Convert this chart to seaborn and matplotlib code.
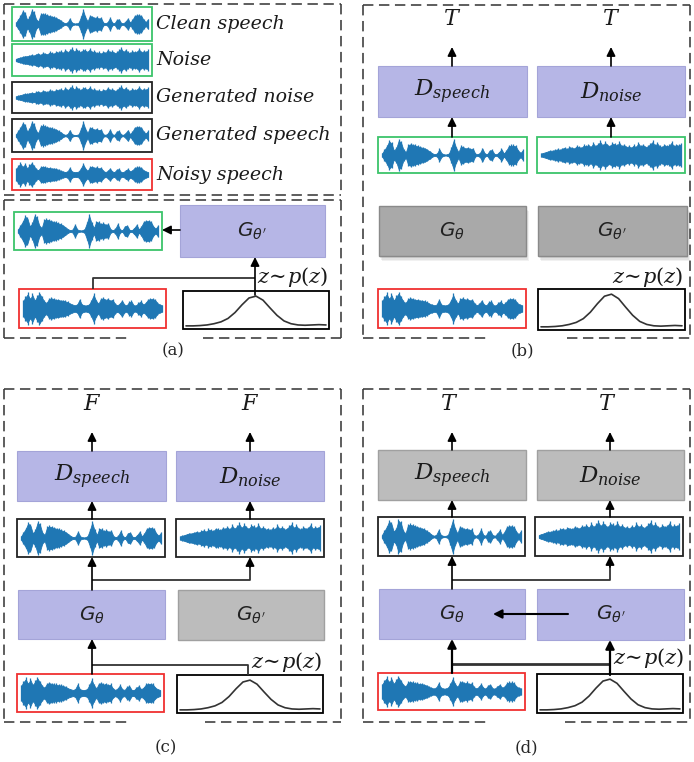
import numpy as np
import matplotlib
matplotlib.use("Agg")
import matplotlib.pyplot as plt
from matplotlib.patches import Rectangle
import seaborn as sns

sns.set_style("white")
plt.rcParams['font.family'] = ['DejaVu Serif']

# ---------------- data ----------------
legend_labels = ["Clean speech", "Noise", "Generated noise", "Generated speech", "Noisy speech"]
panel_labels = ["(a)", "(b)", "(c)", "(d)"]
verdict_b = ["T", "T"]
verdict_c = ["F", "F"]
verdict_d = ["T", "T"]

# waveform envelopes (relative amplitude)
clean_env = [0.1, 0.35, 0.6, 0.95, 0.8, 0.3, 0.5, 1.0, 0.85, 0.35, 0.2, 0.7, 0.75, 0.7, 0.65,
             0.6, 0.55, 0.5, 0.45, 0.35, 0.25, 0.12, 0.05, 0.1, 0.4, 0.1, 0.04, 0.04, 0.1, 0.5,
             1.0, 0.5, 0.2, 0.6, 0.55, 0.45, 0.5, 0.4, 0.45, 0.1, 0.05, 0.15, 0.45, 0.1, 0.05,
             0.3, 0.35, 0.08, 0.05, 0.2, 0.4, 0.1, 0.3, 0.6, 0.65, 0.65, 0.6, 0.3, 0.15, 0.35]
noise_env = [0.1, 0.15, 0.2, 0.25, 0.3, 0.3, 0.35, 0.4, 0.35, 0.45, 0.5, 0.4, 0.55, 0.5, 0.45,
             0.6, 0.55, 0.5, 0.65, 0.6, 0.7, 0.55, 0.8, 0.6, 0.75, 0.9, 0.65, 0.85, 0.7, 0.6,
             0.8, 0.75, 0.65, 0.85, 0.6, 0.7, 0.55, 0.6, 0.5, 0.65, 0.55, 0.8, 0.6, 0.7, 0.55,
             0.6, 0.75, 0.9, 0.65, 0.8, 0.6, 0.55, 0.7, 0.6, 0.65, 0.85, 0.6, 0.7, 0.65, 0.75]
noisy_env = [0.45, 0.7, 0.9, 0.6, 0.85, 0.5, 0.75, 0.95, 0.7, 0.45, 0.35, 0.6, 0.65, 0.6, 0.55,
             0.55, 0.5, 0.5, 0.45, 0.4, 0.3, 0.25, 0.2, 0.25, 0.55, 0.25, 0.2, 0.2, 0.25, 0.5,
             0.85, 0.5, 0.3, 0.6, 0.65, 0.55, 0.6, 0.5, 0.55, 0.3, 0.2, 0.3, 0.5, 0.25, 0.2,
             0.4, 0.45, 0.2, 0.2, 0.35, 0.45, 0.25, 0.35, 0.55, 0.6, 0.6, 0.55, 0.35, 0.25, 0.2]
# prior density curve z ~ p(z)
gauss_pdf = [0.02, 0.02, 0.03, 0.05, 0.09, 0.15, 0.26, 0.45, 0.7, 0.92, 0.98, 0.85, 0.6,
             0.36, 0.18, 0.09, 0.05, 0.04, 0.05, 0.06, 0.05]

# ---------------- styles ----------------
BLUE = "#1f77b4"
GREEN = "#3cc46a"
RED = "#f03030"
LAV = "#b6b6e6"
LAV_E = "#a4a4d8"
GRAY_B = "#a9a9a9"
GRAY_C = "#bcbcbc"
DASH = "#3a3a3a"
LINE = "#333333"

fig = plt.figure(figsize=(6.94, 7.62), dpi=100)
ax = fig.add_axes([0, 0, 1, 1])
ax.axis("off")


def rect(x0, y0, x1, y1, fc="none", ec="black", lw=1.2, z=2):
    ax.add_patch(Rectangle((x0, y0), x1 - x0, y1 - y0, facecolor=fc, edgecolor=ec, lw=lw, zorder=z))


def wave(env, x0, y0, x1, y1, ec):
    rect(x0, y0, x1, y1, fc="white", ec=ec, lw=1.3, z=2)
    xs = np.linspace(x0 + 4, x1 - 4, len(env))
    e = np.array(env)
    yc = (y0 + y1) / 2
    half = (y1 - y0) / 2 - 2.5
    ax.fill_between(xs, yc - e * half * 0.92, yc + e * half * 0.92, color=BLUE, lw=0.6, zorder=3)
    ax.vlines(xs, yc - e * half * 1.05, yc + e * half * 1.05, color=BLUE, lw=0.9, zorder=3)


def gauss(x0, y0, x1, y1):
    rect(x0, y0, x1, y1, fc="white", ec="black", lw=1.3, z=2)
    xs = np.linspace(x0 + 3, x1 - 3, len(gauss_pdf))
    ys = y1 - 2.5 - np.array(gauss_pdf) * (y1 - y0 - 7)
    sns.lineplot(x=xs, y=ys, ax=ax, color=LINE, lw=1.2, sort=False, legend=False, zorder=4)


def dashed_box(x0, y0, x1, y1, gap=None):
    kw = dict(color=DASH, lw=1.15, ls=(0, (6.5, 3.5)), zorder=1)
    ax.plot([x0, x1], [y0, y0], **kw)
    ax.plot([x0, x0], [y0, y1], **kw)
    ax.plot([x1, x1], [y0, y1], **kw)
    if gap is None:
        ax.plot([x0, x1], [y1, y1], **kw)
    else:
        ax.plot([x0, gap[0]], [y1, y1], **kw)
        ax.plot([gap[1], x1], [y1, y1], **kw)


def arrow(x0, y0, x1, y1, lw=1.2):
    ax.annotate("", xy=(x1, y1), xytext=(x0, y0),
                arrowprops=dict(arrowstyle="-|>", color="black", lw=lw,
                                mutation_scale=13, shrinkA=0, shrinkB=0), zorder=5)


def line(xs, ys, lw=1.3):
    ax.plot(xs, ys, color=LINE, lw=lw, zorder=4, solid_capstyle="butt")


def dlabel(x, y, s):
    ax.text(x, y, s, ha="center", va="center", fontsize=16.5, math_fontfamily="dejavuserif",
            color="#1a1a1a", zorder=6)


def glabel(x, y, s):
    ax.text(x, y, s, ha="center", va="center", fontsize=14.5, math_fontfamily="dejavusans",
            color="#222222", zorder=6)


def zlabel(x, y):
    ax.text(x, y, r"$z\!\sim\!p(z)$", ha="left", va="center", fontsize=15,
            math_fontfamily="dejavuserif", color="#1a1a1a", zorder=6)


def verdict(x, y, t):
    ax.text(x, y, f"${t}$", ha="center", va="center", fontsize=16,
            math_fontfamily="dejavuserif", color="#1a1a1a")


def gray_shadow_box(x0, y0, x1, y1):
    for i, a in enumerate([0.10, 0.12, 0.16]):
        off = 5 - i * 1.5
        ax.add_patch(Rectangle((x0 + off * 0.6, y0 + off), x1 - x0, y1 - y0,
                               facecolor="#777777", edgecolor="none", alpha=a, zorder=1.5))
    rect(x0, y0, x1, y1, fc=GRAY_B, ec="#8a8a8a", lw=1.0, z=2)


# ---------------- panel (a) ----------------
dashed_box(4, 4, 341, 195)
envs = [clean_env, noise_env, noise_env, clean_env, noisy_env]
cols = [GREEN, GREEN, "#222222", "#222222", RED]
rows = [(7, 41), (44, 76), (82, 113), (119, 152), (159, 190)]
for env, c, (ya, yb), lab in zip(envs, cols, rows, legend_labels):
    wave(env, 12, ya, 152, yb, c)
    ax.text(156, (ya + yb) / 2, lab, ha="left", va="center", fontsize=13.7, style="italic",
            color="#1a1a1a", zorder=6)

dashed_box(4, 200, 341, 338, gap=(130, 203))
wave(clean_env, 14, 212, 162, 250, GREEN)
rect(180, 205, 325, 257, fc=LAV, ec=LAV_E, lw=0.8)
glabel(252, 231, r"$G_{\theta'}$")
arrow(180, 230, 162, 230)
wave(noisy_env, 19, 289, 166, 328, RED)
gauss(183, 291, 329, 329)
line([93, 93, 255], [289, 278, 278])
arrow(255, 295, 255, 257)
zlabel(257, 277)
ax.text(173, 351, panel_labels[0], ha="center", va="center", fontsize=12)

# ---------------- panel (b) ----------------
dashed_box(363, 5, 690, 338, gap=(488, 567))
for xc, t in zip([452, 611], verdict_b):
    verdict(xc, 19, t)
    arrow(xc, 66, xc, 47)
    arrow(xc, 137, xc, 117)
rect(378, 66, 527, 117, fc=LAV, ec=LAV_E, lw=0.8)
rect(537, 66, 685, 117, fc=LAV, ec=LAV_E, lw=0.8)
dlabel(452, 92, r"$D_{speech}$")
dlabel(611, 92, r"$D_{noise}$")
wave(clean_env, 378, 137, 527, 173, GREEN)
wave(noise_env, 537, 137, 685, 173, GREEN)
gray_shadow_box(379, 206, 526, 256)
gray_shadow_box(538, 206, 687, 256)
glabel(452, 231, r"$G_{\theta}$")
glabel(612, 231, r"$G_{\theta'}$")
wave(noisy_env, 378, 289, 526, 328, RED)
gauss(538, 289, 685, 330)
zlabel(612, 277)
ax.text(522, 351, panel_labels[1], ha="center", va="center", fontsize=12)

# ---------------- panel (c) ----------------
dashed_box(4, 389, 341, 722, gap=(128, 205))
for xc, t in zip([92, 250], verdict_c):
    verdict(xc, 404, t)
    arrow(xc, 451, xc, 432)
    arrow(xc, 519, xc, 501)
rect(17, 451, 166, 501, fc=LAV, ec=LAV_E, lw=0.8)
rect(176, 451, 324, 501, fc=LAV, ec=LAV_E, lw=0.8)
dlabel(92, 477, r"$D_{speech}$")
dlabel(250, 477, r"$D_{noise}$")
wave(clean_env, 17, 519, 165, 557, "#222222")
wave(noise_env, 176, 519, 324, 557, "#222222")
arrow(92, 590, 92, 557)
line([92, 250, 250], [580, 580, 566])
arrow(250, 567, 250, 557)
rect(18, 590, 165, 639, fc=LAV, ec=LAV_E, lw=0.8)
rect(178, 590, 324, 640, fc=GRAY_C, ec="#a0a0a0", lw=1.0)
glabel(92, 615, r"$G_{\theta}$")
glabel(251, 615, r"$G_{\theta'}$")
arrow(92, 674, 92, 639)
line([92, 248, 248], [665, 665, 675])
wave(noisy_env, 17, 674, 164, 712, RED)
gauss(177, 675, 323, 713)
zlabel(251, 662)
ax.text(166, 748, panel_labels[2], ha="center", va="center", fontsize=12)

# ---------------- panel (d) ----------------
dashed_box(363, 389, 690, 722, gap=(488, 565))
for xc, t in zip([452, 610], verdict_d):
    verdict(xc - 3, 404, t)
    arrow(xc, 450, xc, 432)
    arrow(xc, 517, xc, 500)
rect(378, 450, 526, 500, fc=GRAY_C, ec="#a0a0a0", lw=1.0)
rect(537, 450, 684, 500, fc=GRAY_C, ec="#a0a0a0", lw=1.0)
dlabel(452, 476, r"$D_{speech}$")
dlabel(610, 476, r"$D_{noise}$")
wave(clean_env, 378, 517, 525, 556, "#222222")
wave(noise_env, 535, 517, 683, 556, "#222222")
arrow(452, 589, 452, 556)
line([452, 610, 610], [580, 580, 566])
arrow(610, 567, 610, 556)
rect(379, 589, 525, 639, fc=LAV, ec=LAV_E, lw=0.8)
rect(537, 589, 684, 640, fc=LAV, ec=LAV_E, lw=0.8)
glabel(452, 614, r"$G_{\theta}$")
glabel(611, 614, r"$G_{\theta'}$")
arrow(568, 614, 493, 614, lw=1.5)
arrow(452, 673, 452, 639, lw=1.6)
line([452, 610], [664, 664], lw=2.0)
arrow(610, 675, 610, 640, lw=1.6)
wave(noisy_env, 378, 673, 525, 710, RED)
gauss(537, 674, 683, 713)
zlabel(613, 658)
ax.text(526, 748, panel_labels[3], ha="center", va="center", fontsize=12)

ax.set_xlim(0, 694)
ax.set_ylim(762, 0)
ax.set_xlabel("")
ax.set_ylabel("")
fig.savefig("out.png", dpi=100)
